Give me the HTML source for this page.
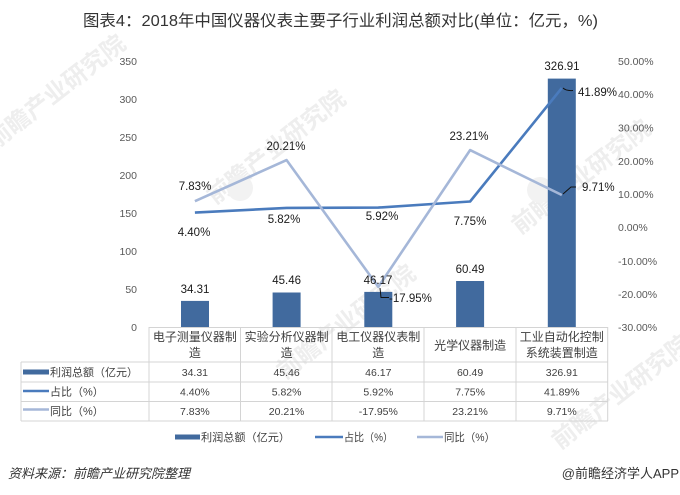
<!DOCTYPE html>
<html><head><meta charset="utf-8"><style>
html,body{margin:0;padding:0;background:#fff;}
svg{display:block;}
text{font-family:"Liberation Sans","Noto Sans CJK SC",sans-serif;}
</style></head><body>
<svg width="680" height="495" viewBox="0 0 680 495" xmlns="http://www.w3.org/2000/svg">
<rect width="680" height="495" fill="#fff"/>
<!-- watermarks -->
<g fill="#eeeeee" font-size="24" font-weight="bold">
<text transform="translate(-5,150) rotate(-38)">前瞻产业研究院</text>
<text transform="translate(215,205) rotate(-38)">前瞻产业研究院</text>
<text transform="translate(520,235) rotate(-38)">前瞻产业研究院</text>
<text transform="translate(285,380) rotate(-38)">前瞻产业研究院</text>
<text transform="translate(560,450) rotate(-38)">前瞻产业研究院</text>
</g>
<circle cx="240" cy="188" r="13" fill="#f2f2f2"/>
<circle cx="540" cy="190" r="13" fill="#f2f2f2"/>

<!-- title -->
<text x="83" y="26" font-size="16" fill="#333" textLength="515" lengthAdjust="spacingAndGlyphs">图表4：2018年中国仪器仪表主要子行业利润总额对比(单位：亿元，%)</text>

<!-- left axis labels -->
<g font-size="10.5" fill="#595959" text-anchor="end">
<text x="137" y="331">0</text>
<text x="137" y="293">50</text>
<text x="137" y="255">100</text>
<text x="137" y="217">150</text>
<text x="137" y="179">200</text>
<text x="137" y="141">250</text>
<text x="137" y="103">300</text>
<text x="137" y="65">350</text>
</g>
<!-- right axis labels -->
<g font-size="10.5" fill="#595959">
<text x="618" y="65">50.00%</text>
<text x="618" y="98">40.00%</text>
<text x="618" y="131.5">30.00%</text>
<text x="618" y="165">20.00%</text>
<text x="618" y="198">10.00%</text>
<text x="618" y="231">0.00%</text>
<text x="618" y="265">-10.00%</text>
<text x="618" y="298">-20.00%</text>
<text x="618" y="331">-30.00%</text>
</g>

<!-- bars -->
<g fill="#416a9e">
<rect x="181" y="300.9" width="28" height="26.1"/>
<rect x="272.6" y="292.5" width="28" height="34.5"/>
<rect x="364.3" y="291.9" width="28" height="35.1"/>
<rect x="456.1" y="281" width="28" height="46"/>
<rect x="547.8" y="78.6" width="28" height="248.4"/>
</g>

<!-- lines -->
<polyline points="194.9,212.6 286.6,207.9 378.3,207.6 470.1,201.5 561.8,88" fill="none" stroke="#4a7bbd" stroke-width="2.6" stroke-linejoin="round"/>
<polyline points="194.9,201.2 286.6,160.1 378.3,286.9 470.1,150.1 561.8,195" fill="none" stroke="#a5b7d8" stroke-width="2.6" stroke-linejoin="round"/>

<!-- leader lines -->
<g fill="none" stroke="#111" stroke-width="1">
<path d="M563,88 Q566,91 573,90.5"/>
<path d="M563,194 L571,187 L576,187"/>
<path d="M380,288 L381,297.5 L389,297.5"/>
</g>

<!-- data labels -->
<g font-size="11.5" fill="#1a1a1a" text-anchor="middle">
<text x="195" y="293">34.31</text>
<text x="286.6" y="284">45.46</text>
<text x="378" y="284">46.17</text>
<text x="470" y="273">60.49</text>
<text x="562" y="70">326.91</text>
<text x="195" y="190">7.83%</text>
<text x="286" y="150">20.21%</text>
<text x="194" y="236">4.40%</text>
<text x="284" y="223">5.82%</text>
<text x="382" y="220">5.92%</text>
<text x="470" y="225">7.75%</text>
<text x="469" y="140">23.21%</text>
</g>
<g font-size="11.5" fill="#1a1a1a">
<text x="578" y="96">41.89%</text>
<text x="582" y="191">9.71%</text>
<text x="389" y="302">-17.95%</text>
</g>

<!-- table grid -->
<g stroke="#d4d4d4" stroke-width="1" fill="none">
<line x1="149" y1="327.5" x2="608" y2="327.5"/>
<line x1="21" y1="362" x2="608" y2="362"/>
<line x1="21" y1="382" x2="608" y2="382"/>
<line x1="21" y1="401.5" x2="608" y2="401.5"/>
<line x1="21" y1="421" x2="608" y2="421"/>
<line x1="21" y1="362" x2="21" y2="421"/>
<line x1="149" y1="327" x2="149" y2="421"/>
<line x1="240.5" y1="327" x2="240.5" y2="421"/>
<line x1="332" y1="327" x2="332" y2="421"/>
<line x1="424" y1="327" x2="424" y2="421"/>
<line x1="516" y1="327" x2="516" y2="421"/>
<line x1="607.7" y1="327" x2="607.7" y2="421"/>
</g>

<!-- table headers -->
<g font-size="12" fill="#404040" text-anchor="middle">
<text x="194.9" y="341">电子测量仪器制</text>
<text x="194.9" y="357">造</text>
<text x="286.6" y="341">实验分析仪器制</text>
<text x="286.6" y="357">造</text>
<text x="378.3" y="341">电工仪器仪表制</text>
<text x="378.3" y="357">造</text>
<text x="470.1" y="349.5">光学仪器制造</text>
<text x="561.8" y="341">工业自动化控制</text>
<text x="561.8" y="357">系统装置制造</text>
</g>

<!-- table row keys -->
<rect x="23" y="369.5" width="26" height="5" fill="#416a9e"/>
<line x1="23" y1="391" x2="49" y2="391" stroke="#4a7bbd" stroke-width="2.6"/>
<line x1="23" y1="409.5" x2="49" y2="409.5" stroke="#a5b7d8" stroke-width="2.6"/>
<g font-size="11" fill="#404040">
<text x="50" y="376">利润总额（亿元）</text>
<text x="50" y="395.5">占比（%）</text>
<text x="50" y="415">同比（%）</text>
</g>

<!-- table values -->
<g font-size="10.5" fill="#404040" text-anchor="middle">
<text x="194.9" y="376">34.31</text>
<text x="286.6" y="376">45.46</text>
<text x="378.3" y="376">46.17</text>
<text x="470.1" y="376">60.49</text>
<text x="561.8" y="376">326.91</text>
<text x="194.9" y="395.5">4.40%</text>
<text x="286.6" y="395.5">5.82%</text>
<text x="378.3" y="395.5">5.92%</text>
<text x="470.1" y="395.5">7.75%</text>
<text x="561.8" y="395.5">41.89%</text>
<text x="194.9" y="415">7.83%</text>
<text x="286.6" y="415">20.21%</text>
<text x="378.3" y="415">-17.95%</text>
<text x="470.1" y="415">23.21%</text>
<text x="561.8" y="415">9.71%</text>
</g>

<!-- bottom legend -->
<rect x="175" y="434.5" width="25" height="5" fill="#416a9e"/>
<line x1="315" y1="437" x2="343" y2="437" stroke="#4a7bbd" stroke-width="2.6"/>
<line x1="417" y1="437" x2="443" y2="437" stroke="#a5b7d8" stroke-width="2.6"/>
<g font-size="11" fill="#404040">
<text x="201" y="441" textLength="89" lengthAdjust="spacingAndGlyphs">利润总额（亿元）</text>
<text x="344" y="441" textLength="49" lengthAdjust="spacingAndGlyphs">占比（%）</text>
<text x="444" y="441" textLength="51" lengthAdjust="spacingAndGlyphs">同比（%）</text>
</g>

<!-- footer -->
<text x="8" y="478" font-size="13" font-style="italic" fill="#333" textLength="182" lengthAdjust="spacingAndGlyphs">资料来源：前瞻产业研究院整理</text>
<text x="679" y="478" font-size="13" fill="#333" text-anchor="end">@前瞻经济学人APP</text>
</svg>
</body></html>
